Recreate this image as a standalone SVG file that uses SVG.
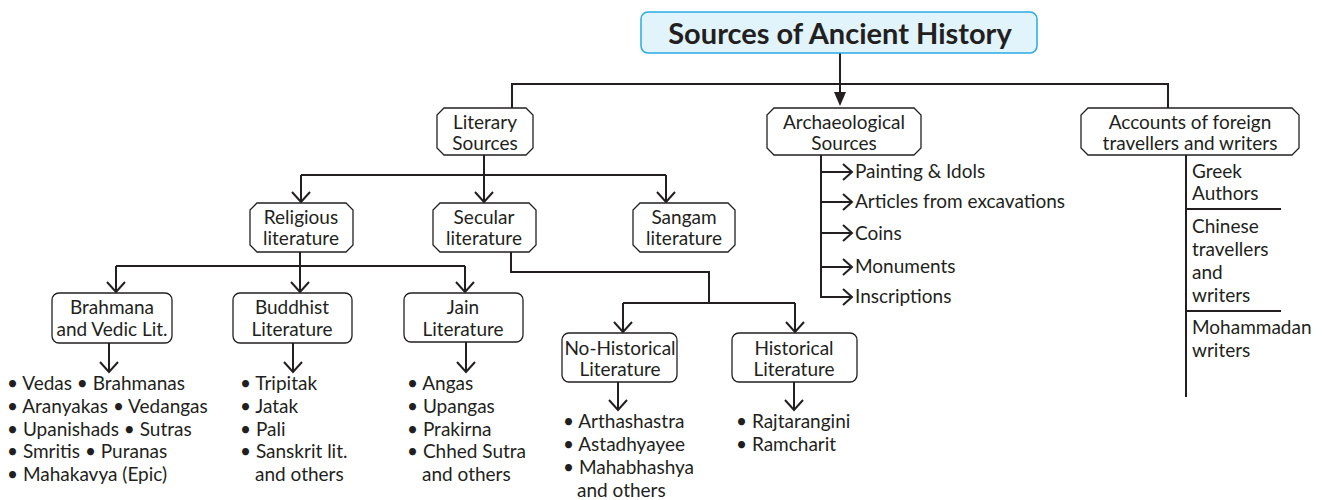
<svg xmlns="http://www.w3.org/2000/svg" width="1326" height="500" viewBox="0 0 1326 500">
<defs>
<style>
.t{font-family:Lato,"Open Sans","Liberation Sans",sans-serif;font-size:19px;fill:#231f20}
.c{text-anchor:middle}
.box{fill:#fff;stroke:#231f20;stroke-width:1.3}
.ln{fill:none;stroke:#231f20;stroke-width:2}
.ah{fill:none;stroke:#231f20;stroke-width:2}
</style>
</defs>
<rect width="1326" height="500" fill="#fff"/>
<g id="connectors">
<path class="ln" d="M840,53V94"/>
<path d="M834,92H846L840,106Z" fill="#231f20"/>
<path class="ln" d="M512,108V84H1168V108"/>
<path class="ln" d="M484,155V201M301,175H666M301,175V201M666,175V201"/>
<path class="ah" d="M292,192L301,202L310,192M475,192L484,202L493,192M657,192L666,202L675,192"/>
<path class="ln" d="M300,252V266M116,266H465M116,266V291M300,266V291M465,266V291"/>
<path class="ah" d="M107,282L116,292L125,282M291,282L300,292L309,282M456,282L465,292L474,282"/>
<path class="ln" d="M109,343V371M293,343V371M466,342V371"/>
<path class="ah" d="M100,362L109,372L118,362M284,362L293,372L302,362M457,362L466,372L475,362"/>
<path class="ln" d="M511,252V272H709V303M623,303H795M623,303V331M795,303V331"/>
<path class="ah" d="M614,322L623,332L632,322M786,322L795,332L804,322"/>
<path class="ln" d="M618,382V409M794,382V409"/>
<path class="ah" d="M609,400L618,410L627,400M785,400L794,410L803,400"/>
<path class="ln" d="M821,155V297H851M821,172H851M821,202H851M821,233H851M821,267H851"/>
<path class="ah" d="M843,164L852,172L843,180M843,194L852,202L843,210M843,225L852,233L843,241M843,259L852,267L843,275M843,289L852,297L843,305"/>
<path class="ln" d="M1186,155V397M1186,209H1281M1186,311H1281"/>
</g>
<g id="title">
<rect x="641" y="12" width="396" height="41" rx="7" fill="#e1f3fb" stroke="#29abe2" stroke-width="1.5"/>
<text x="840" y="44" class="t c" style="font-size:29px;font-weight:bold">Sources of Ancient History</text>
</g>
<g id="literary">
<path class="box" d="M444,108H526L533,115V148L526,155H444L437,148V115Z"/>
<text class="t c" x="485" y="129">Literary</text>
<text class="t c" x="485" y="150">Sources</text>
</g>
<g id="archaeological">
<path class="box" d="M774,108H914L921,115V148L914,155H774L767,148V115Z"/>
<text class="t c" x="844" y="129">Archaeological</text>
<text class="t c" x="844" y="150">Sources</text>
</g>
<g id="accounts">
<path class="box" d="M1088,108H1292L1299,115V148L1292,155H1088L1081,148V115Z"/>
<text class="t c" x="1190" y="129">Accounts of foreign</text>
<text class="t c" x="1190" y="150">travellers and writers</text>
</g>
<g id="religious">
<path class="box" d="M257,203H346L353,210V245L346,252H257L250,245V210Z"/>
<text class="t c" x="301" y="224">Religious</text>
<text class="t c" x="301" y="245">literature</text>
</g>
<g id="secular">
<path class="box" d="M440,203H529L536,210V245L529,252H440L433,245V210Z"/>
<text class="t c" x="484" y="224">Secular</text>
<text class="t c" x="484" y="245">literature</text>
</g>
<g id="sangam">
<path class="box" d="M640,203H728L735,210V245L728,252H640L633,245V210Z"/>
<text class="t c" x="684" y="224">Sangam</text>
<text class="t c" x="684" y="245">literature</text>
</g>
<g id="brahmana">
<rect class="box" x="52" y="293" width="120" height="50" rx="7"/>
<text class="t c" x="112" y="314">Brahmana</text>
<text class="t c" x="112" y="336">and Vedic Lit.</text>
</g>
<g id="buddhist">
<rect class="box" x="233" y="293" width="119" height="50" rx="7"/>
<text class="t c" x="292" y="314">Buddhist</text>
<text class="t c" x="292" y="336">Literature</text>
</g>
<g id="jain">
<rect class="box" x="404" y="293" width="119" height="49" rx="7"/>
<text class="t c" x="463" y="314">Jain</text>
<text class="t c" x="463" y="336">Literature</text>
</g>
<g id="nohistorical">
<rect class="box" x="562" y="333" width="115" height="49" rx="7"/>
<text class="t c" x="620" y="355">No-Historical</text>
<text class="t c" x="620" y="376">Literature</text>
</g>
<g id="historical">
<rect class="box" x="732" y="333" width="125" height="49" rx="7"/>
<text class="t c" x="794" y="355">Historical</text>
<text class="t c" x="794" y="376">Literature</text>
</g>
<g id="arch-items">
<text class="t" x="855" y="178">Painting &amp; Idols</text>
<text class="t" x="855" y="208">Articles from excavations</text>
<text class="t" x="855" y="240">Coins</text>
<text class="t" x="855" y="273">Monuments</text>
<text class="t" x="855" y="303">Inscriptions</text>
</g>
<g id="foreign-items">
<text class="t" x="1192" y="178">Greek</text>
<text class="t" x="1192" y="200">Authors</text>
<text class="t" x="1192" y="233">Chinese</text>
<text class="t" x="1192" y="256">travellers</text>
<text class="t" x="1192" y="279">and</text>
<text class="t" x="1192" y="302">writers</text>
<text class="t" x="1192" y="334">Mohammadan</text>
<text class="t" x="1192" y="357">writers</text>
</g>
<g id="brahmana-list">
<text class="t" x="7" y="390">• Vedas • Brahmanas</text>
<text class="t" x="7" y="413">• Aranyakas • Vedangas</text>
<text class="t" x="7" y="436">• Upanishads • Sutras</text>
<text class="t" x="7" y="458">• Smritis • Puranas</text>
<text class="t" x="7" y="481">• Mahakavya (Epic)</text>
</g>
<g id="buddhist-list">
<text class="t" x="240" y="390">• Tripitak</text>
<text class="t" x="240" y="413">• Jatak</text>
<text class="t" x="240" y="436">• Pali</text>
<text class="t" x="240" y="458">• Sanskrit lit.</text>
<text class="t" x="255" y="481">and others</text>
</g>
<g id="jain-list">
<text class="t" x="407" y="390">• Angas</text>
<text class="t" x="407" y="413">• Upangas</text>
<text class="t" x="407" y="436">• Prakirna</text>
<text class="t" x="407" y="458">• Chhed Sutra</text>
<text class="t" x="422" y="481">and others</text>
</g>
<g id="nohistorical-list">
<text class="t" x="563" y="428">• Arthashastra</text>
<text class="t" x="563" y="451">• Astadhyayee</text>
<text class="t" x="563" y="474">• Mahabhashya</text>
<text class="t" x="577" y="497">and others</text>
</g>
<g id="historical-list">
<text class="t" x="736" y="428">• Rajtarangini</text>
<text class="t" x="736" y="451">• Ramcharit</text>
</g>
</svg>
